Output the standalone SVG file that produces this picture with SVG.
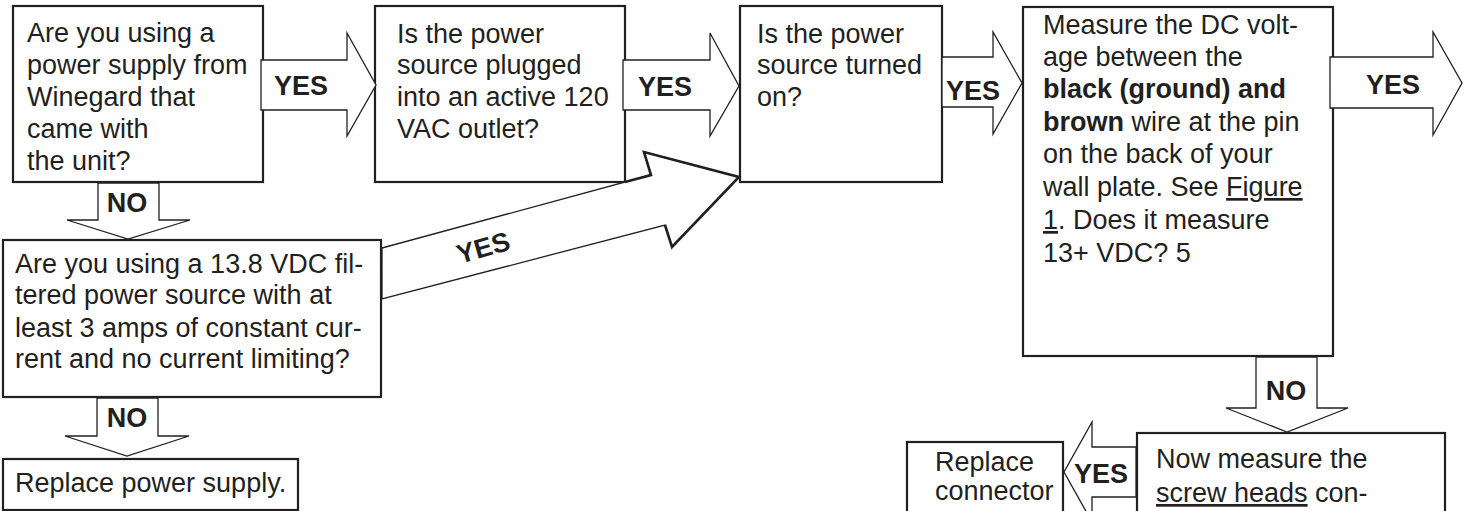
<svg xmlns="http://www.w3.org/2000/svg" width="1473" height="511" viewBox="0 0 1473 511">
<style>
.box{fill:#fff;stroke:#231f20;stroke-width:2.2}
.t{font-family:"Liberation Sans",Arial,Helvetica,sans-serif;font-size:27px;fill:#231f20}
.lbl{font-family:"Liberation Sans",Arial,Helvetica,sans-serif;font-size:27px;font-weight:bold;fill:#231f20;text-anchor:middle}
.arr{fill:#fff;stroke:#231f20;stroke-width:1.3;stroke-linejoin:miter}
.b{font-weight:bold}
.u{text-decoration:underline}
</style>
<rect width="1473" height="511" fill="#fff"/>
<g id="n1">
<rect class="box" x="13" y="6" width="250" height="176"/>
<text class="t"><tspan x="27" y="42">Are you using a</tspan><tspan x="27" y="74">power supply from</tspan><tspan x="27" y="106">Winegard that</tspan><tspan x="27" y="138">came with</tspan><tspan x="27" y="170">the unit?</tspan></text>
</g>
<g id="n2">
<rect class="box" x="375" y="6" width="250" height="176"/>
<text class="t"><tspan x="397" y="43">Is the power</tspan><tspan x="397" y="74">source plugged</tspan><tspan x="397" y="106">into an active 120</tspan><tspan x="397" y="138">VAC outlet?</tspan></text>
</g>
<g id="n3">
<rect class="box" x="740" y="6" width="202" height="176"/>
<text class="t"><tspan x="757" y="43">Is the power</tspan><tspan x="757" y="74">source turned</tspan><tspan x="757" y="106">on?</tspan></text>
</g>
<g id="n4">
<rect class="box" x="1023" y="7" width="310" height="349"/>
<text class="t"><tspan x="1043" y="34">Measure the DC volt-</tspan><tspan x="1043" y="66">age between the</tspan><tspan x="1043" y="98" class="b">black (ground) and</tspan><tspan x="1043" y="131"><tspan class="b">brown</tspan> wire at the pin</tspan><tspan x="1043" y="163">on the back of your</tspan><tspan x="1043" y="196">wall plate. See <tspan class="u">Figure</tspan></tspan><tspan x="1043" y="229"><tspan class="u">1</tspan>. Does it measure</tspan><tspan x="1043" y="262">13+ VDC? 5</tspan></text>
</g>
<g id="n5">
<rect class="box" x="3" y="240" width="378" height="157"/>
<text class="t"><tspan x="15" y="273">Are you using a 13.8 VDC fil-</tspan><tspan x="15" y="304">tered power source with at</tspan><tspan x="15" y="337">least 3 amps of constant cur-</tspan><tspan x="15" y="368">rent and no current limiting?</tspan></text>
</g>
<g id="n6">
<rect class="box" x="3" y="459" width="295" height="51"/>
<text class="t" x="15" y="492">Replace power supply.</text>
</g>
<g id="n7">
<rect class="box" x="907" y="442" width="156" height="100"/>
<text class="t"><tspan x="935" y="471">Replace</tspan><tspan x="935" y="500">connector</tspan></text>
</g>
<g id="n8">
<rect class="box" x="1137" y="433" width="308" height="100"/>
<text class="t"><tspan x="1156" y="468">Now measure the</tspan><tspan x="1156" y="502"><tspan class="u">screw heads</tspan> con-</tspan></text>
</g>
<g id="connectors">
<polygon class="arr" points="261,60 347,60 347,33 376,85 347,136 347,110 261,110"/>
<text class="lbl" x="301" y="95">YES</text>
<polygon class="arr" points="623,60 710,60 710,33 739,86 710,136 710,110 623,110"/>
<text class="lbl" x="665" y="96">YES</text>
<polygon class="arr" points="942,57 993,57 993,32 1022,83 993,134 993,107 942,107"/>
<text class="lbl" x="973" y="100">YES</text>
<polygon class="arr" points="1330,57 1433,57 1433,32 1462,83 1433,135 1433,108 1330,108"/>
<text class="lbl" x="1393" y="94">YES</text>
<polygon class="arr" points="98,183 98,220 67,220 128,239 190,220 159,220 159,183"/>
<text class="lbl" x="127" y="212">NO</text>
<polygon class="arr" points="97,398 97,436 65,436 127,456 189,436 158,436 158,398"/>
<text class="lbl" x="127" y="427">NO</text>
<polygon class="arr" points="1256,357 1256,408 1226,408 1287,432 1348,408 1317,408 1317,357"/>
<text class="lbl" x="1286" y="400">NO</text>
<polygon class="arr" points="1136,447 1092,447 1092,422 1064,472 1092,522 1092,497 1136,497"/>
<text class="lbl" x="1101" y="483">YES</text>
<polygon class="arr" points="382,248 651,175 644,152 739,177 672,247 665,225 382,299"/>
<path d="M625,182 L651,175 L644,152 L739,177 L672,247 L665,225" fill="none" stroke="#231f20" stroke-width="2.6" stroke-linejoin="miter"/>
<text class="lbl" transform="translate(483,247) rotate(-16)" x="0" y="10">YES</text>
</g>
</svg>
